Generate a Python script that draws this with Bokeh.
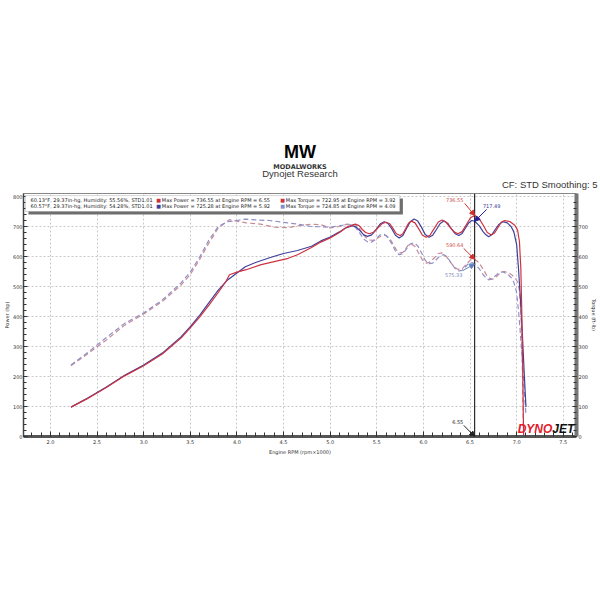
from bokeh.plotting import figure
from bokeh.models import (Range1d, LinearAxis, FixedTicker, Label, Arrow, NormalHead,
                          Span, BoxAnnotation, PrintfTickFormatter, Title)
from bokeh.embed import file_html
from bokeh.resources import INLINE

# ---------------- data ----------------
rpm_red = [2.22, 2.40, 2.60, 2.80, 3.00, 3.20, 3.40, 3.50, 3.60, 3.70, 3.80, 3.88, 3.92, 4.00,
           4.10, 4.25, 4.40, 4.55, 4.65, 4.80, 4.90, 5.00, 5.10, 5.18, 5.27, 5.31, 5.345, 5.38,
           5.42, 5.465, 5.51, 5.555, 5.60, 5.64, 5.675, 5.71, 5.75, 5.78, 5.81, 5.84, 5.87,
           5.91, 5.95, 5.99, 6.03, 6.07, 6.115, 6.16, 6.20, 6.24, 6.285, 6.33, 6.37, 6.415,
           6.46, 6.505, 6.55, 6.595, 6.64, 6.685, 6.73, 6.765, 6.80, 6.835, 6.87, 6.93, 6.98,
           7.01, 7.03, 7.045, 7.055, 7.065, 7.072, 7.075]
power_red = [98, 127, 163, 203, 236, 275, 328, 362, 398, 438, 480, 516, 539, 548,
             556, 572, 583, 594, 606, 630, 648, 662, 680, 698, 708, 703, 690, 680,
             676, 681, 695, 709, 714, 709, 693, 676, 670, 676, 693, 711, 718,
             712, 692, 671, 664, 671, 693, 715, 722, 715, 698, 682, 676, 683,
             706, 729, 736.55, 728, 705, 680, 672, 679, 697, 714, 720, 716, 704,
             688, 650, 560, 420, 230, 60, 0]
torque_red = [236, 276, 322, 372, 408, 450, 505, 540, 590, 645, 695, 714, 722.95, 718,
              712, 708, 698, 696, 702, 708, 706, 695, 700, 708, 706, 695, 678, 664,
              655, 654, 662, 670, 670, 660, 641, 622, 612, 614, 626, 639, 642,
              633, 611, 588, 578, 581, 595, 610, 612, 602, 583, 566, 557, 559,
              574, 589, 590.64, 580, 558, 534, 524, 527, 538, 549, 550, 543, 530,
              515, 486, 417, 313, 171, 45, 0]

rpm_blue = [2.22, 2.40, 2.60, 2.80, 3.00, 3.20, 3.40, 3.50, 3.60, 3.70, 3.80, 3.90, 4.00,
            4.09, 4.20, 4.35, 4.50, 4.65, 4.80, 4.90, 5.00, 5.10, 5.16, 5.24, 5.28, 5.32,
            5.36, 5.40, 5.445, 5.49, 5.535, 5.58, 5.62, 5.66, 5.70, 5.74, 5.78, 5.82, 5.86,
            5.90, 5.94, 5.98, 6.02, 6.06, 6.10, 6.14, 6.18, 6.22, 6.26, 6.30, 6.34, 6.38,
            6.415, 6.45, 6.485, 6.52, 6.55, 6.60, 6.64, 6.665, 6.70, 6.735, 6.77, 6.81, 6.85,
            6.90, 6.94, 6.97, 7.00, 7.02, 7.04, 7.06, 7.08, 7.10]
power_blue = [98, 128, 165, 205, 238, 278, 332, 366, 404, 446, 488, 522, 545,
              566, 580, 596, 610, 620, 634, 652, 665, 682, 694, 703, 698, 686,
              672, 667, 672, 688, 708, 716, 710, 693, 671, 662, 670, 694, 716,
              725.28, 718, 697, 673, 664, 671, 690, 710, 718, 711, 692, 676, 670,
              677, 694, 712, 720, 717.49, 702, 683, 674, 666, 673, 690, 707, 716,
              712, 700, 682, 640, 560, 460, 350, 220, 98]
torque_blue = [238, 280, 330, 378, 412, 455, 512, 548, 598, 655, 700, 716, 720,
               724.85, 722, 720, 714, 708, 700, 699, 698, 702, 706, 705, 694, 677,
               658, 649, 648, 658, 672, 674, 663, 643, 618, 606, 609, 626, 642,
               646, 635, 612, 587, 576, 578, 590, 603, 606, 596, 577, 560, 552,
               554, 565, 577, 580, 575.33, 559, 540, 531, 522, 525, 535, 545, 549,
               542, 530, 514, 480, 419, 343, 260, 163, 72]

x_ticks = [2.0, 2.5, 3.0, 3.5, 4.0, 4.5, 5.0, 5.5, 6.0, 6.5, 7.0, 7.5]
power_ticks = [0, 100, 200, 300, 400, 500, 600, 700, 800]
torque_ticks = [0, 100, 200, 300, 400, 500, 600, 700]

cursor_rpm = 6.55
cursor_power_red, cursor_power_blue = 736.55, 717.49
cursor_torque_red, cursor_torque_blue = 590.64, 575.33

legend_rows = [
    ("60.13\u00b0F, 29.37in-hg, Humidity: 55.56%, STD1.01",
     "Max Power = 736.55 at Engine RPM = 6.55", "Max Torque = 722.95 at Engine RPM = 3.92"),
    ("60.57\u00b0F, 29.37in-hg, Humidity: 54.28%, STD1.01",
     "Max Power = 725.28 at Engine RPM = 5.92", "Max Torque = 724.85 at Engine RPM = 4.09"),
]

RED = "#cc3340"
BLUE = "#40409c"
RED_T = "#c88a94"
BLUE_T = "#9090c8"
FONT = "DejaVu Sans"

# ---------------- figure ----------------
p = figure(width=600, height=600, output_backend="svg", toolbar_location=None,
           x_range=Range1d(1.711, 7.642), y_range=Range1d(0, 810),
           min_border_left=23, min_border_right=23, min_border_top=193, min_border_bottom=164,
           background_fill_color="white", border_fill_color="white")
p.outline_line_color = "#888888"
p.outline_line_width = 1
p.extra_y_ranges = {"torque": Range1d(0, 810)}

# header titles (stacked outward from the plot frame)
p.add_layout(Title(text="CF: STD Smoothing: 5", align="right", offset=-21, standoff=7,
                   text_font="Liberation Sans", text_font_size="9.5px",
                   text_font_style="normal", text_color="#333333"), "above")
p.add_layout(Title(text="Dynojet Research", align="center", standoff=-10,
                   text_font="Liberation Sans", text_font_size="9.5px",
                   text_font_style="normal", text_color="#333333"), "above")
p.add_layout(Title(text="MODALWORKS", align="center", standoff=0,
                   text_font="DejaVu Sans", text_font_size="6.5px",
                   text_font_style="bold", text_color="#333333"), "above")
p.add_layout(Title(text="MW", align="center", standoff=-3,
                   text_font="Liberation Sans", text_font_size="18px",
                   text_font_style="bold", text_color="black"), "above")

p.xgrid.ticker = FixedTicker(ticks=x_ticks)
p.ygrid.ticker = FixedTicker(ticks=power_ticks)
for g in (p.xgrid, p.ygrid):
    g.grid_line_color = "#c8c8c8"
    g.grid_line_dash = "2 2"
    g.grid_line_width = 1


def style_axis(ax, line_w, line_c):
    ax.axis_line_width = line_w
    ax.axis_line_color = line_c
    ax.major_tick_line_color = "#333333"
    ax.minor_tick_line_color = "#333333"
    ax.major_label_text_font = FONT
    ax.major_label_text_font_size = "5px"
    ax.major_label_text_color = "#333333"
    ax.axis_label_text_font = FONT
    ax.axis_label_text_font_size = "5px"
    ax.axis_label_text_font_style = "normal"
    ax.axis_label_text_color = "#333333"
    ax.axis_label_standoff = 0


xa = p.xaxis[0]
xa.ticker = FixedTicker(ticks=x_ticks, minor_ticks=[round(1.8 + 0.1 * i, 2) for i in range(59)])
xa.formatter = PrintfTickFormatter(format="%.1f")
xa.axis_label = "Engine RPM (rpm\u00d71000)"
style_axis(xa, 3, "#555555")
xa.axis_label_standoff = 2
xa.major_tick_in = 5
xa.major_tick_out = 0
xa.minor_tick_in = 4
xa.minor_tick_out = 0
xa.major_label_standoff = 3

ya = p.yaxis[0]
ya.ticker = FixedTicker(ticks=power_ticks, minor_ticks=list(range(0, 811, 20)))
ya.axis_label = "Power (hp)"
style_axis(ya, 1.5, "#444444")
ya.major_tick_in = 4
ya.major_tick_out = 0
ya.minor_tick_in = 3
ya.minor_tick_out = 0
ya.major_label_standoff = 1

ra = LinearAxis(y_range_name="torque",
                ticker=FixedTicker(ticks=torque_ticks, minor_ticks=list(range(0, 781, 20))))
ra.axis_label = "Torque (ft-lb)"
style_axis(ra, 4, "#777777")
ra.major_tick_in = 4
ra.major_tick_out = 0
ra.minor_tick_in = 3
ra.minor_tick_out = 0
ra.major_label_standoff = 2
p.add_layout(ra, "right")

# curves
p.line(rpm_red, torque_red, color=RED_T, line_width=1.2, line_dash="5 3", y_range_name="torque")
p.line(rpm_blue, torque_blue, color=BLUE_T, line_width=1.2, line_dash="5 3",
       y_range_name="torque")
p.line(rpm_blue, power_blue, color=BLUE, line_width=1.2)
p.line(rpm_red, power_red, color=RED, line_width=1.2)

p.add_layout(Span(location=cursor_rpm, dimension="height", line_color="black", line_width=1))


def lab(x, y, text, color="#222222", size="5px", align="left", baseline="middle",
        font=FONT, style="normal"):
    p.add_layout(Label(x=x, y=y, text=text, text_color=color, text_font_size=size,
                       text_align=align, text_baseline=baseline, text_font=font,
                       text_font_style=style))


def arrow(x0, y0, x1, y1, color):
    p.add_layout(Arrow(x_start=x0, y_start=y0, x_end=x1, y_end=y1, line_color=color,
                       line_width=1,
                       end=NormalHead(size=5, fill_color=color, line_color=color)))


lab(6.336, 788, f"{cursor_power_red:.2f}", color="#d04848", align="center")
arrow(6.443, 777, cursor_rpm, cursor_power_red, "#d03030")
lab(6.732, 770, f"{cursor_power_blue:.2f}", color="#303090", align="center")
arrow(6.679, 757, cursor_rpm, cursor_power_blue, "#2020a0")
lab(6.336, 640, f"{cursor_torque_red:.2f}", color="#d04848", align="center")
arrow(6.432, 627, cursor_rpm, cursor_torque_red, "#d03030")
lab(6.325, 537, f"{cursor_torque_blue:.2f}", color="#7a8ab8", align="center")
arrow(6.422, 553, cursor_rpm, cursor_torque_blue, "#6080c0")
lab(6.368, 50, f"{cursor_rpm:.2f}", color="#222222", align="center")
arrow(6.433, 37, cursor_rpm, 0, "#222222")

# legend box
p.add_layout(BoxAnnotation(left=1.764, right=5.78, top=793, bottom=740,
                           fill_color="#6e6e6e", fill_alpha=1, line_color=None))
p.add_layout(BoxAnnotation(left=1.732, right=5.747, top=803, bottom=750,
                           fill_color="white", fill_alpha=1, line_color="#777777", line_width=1))
row_y = [790, 767]
sq_colors = [(RED, RED), (BLUE, "#7f8fd0")]
for (t1, t2, t3), yy, (c1, c2) in zip(legend_rows, row_y, sq_colors):
    lab(1.786, yy, t1)
    lab(3.135, yy, "\u25a0", color=c1)
    lab(3.195, yy, t2)
    lab(4.465, yy, "\u25a0", color=c2)
    lab(4.525, yy, t3)

# DYNOJET logo
lab(7.011, 2, "DYNO", color="#e0202a", size="12px", baseline="bottom",
    font="Liberation Sans", style="bold italic")
lab(7.382, 2, "JET", color="#111111", size="12px", baseline="bottom",
    font="Liberation Sans", style="bold italic")

open("out.html", "w").write(file_html(p, INLINE))
